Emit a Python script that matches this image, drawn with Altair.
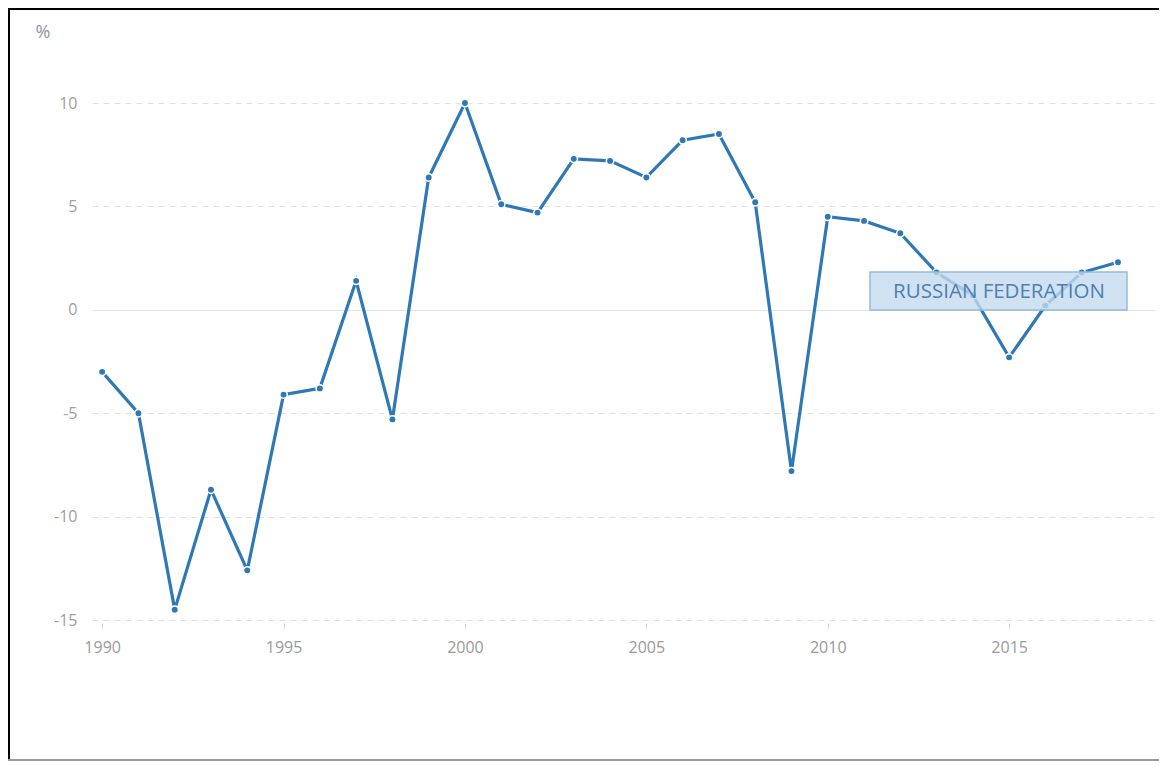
import altair as alt
import pandas as pd

years = list(range(1990, 2019))
growth = [-3.0, -5.0, -14.5, -8.7, -12.6, -4.1, -3.8, 1.4, -5.3, 6.4,
          10.0, 5.1, 4.7, 7.3, 7.2, 6.4, 8.2, 8.5, 5.2, -7.8,
          4.5, 4.3, 3.7, 1.8, 0.7, -2.3, 0.2, 1.8, 2.3]
x_ticks = [1990, 1995, 2000, 2005, 2010, 2015]
y_ticks = [-15, -10, -5, 0, 5, 10]
series_label = "RUSSIAN FEDERATION"

df = pd.DataFrame({"year": years, "value": growth})
one = pd.DataFrame({"a": [0]})

LINE = "#2e78b5"
FONT = "Open Sans"

x_enc = alt.X("year:Q",
              scale=alt.Scale(domain=[1989.72, 2019.02], nice=False, zero=False),
              axis=alt.Axis(values=x_ticks, format="d", title=None, grid=False,
                            domain=False, ticks=True, tickSize=5, tickColor="#cccccc",
                            offset=3, labelPadding=11, labelFontSize=16,
                            labelColor="#9a9a9a", labelFont=FONT))
y_enc = alt.Y("value:Q",
              scale=alt.Scale(domain=[-15, 10], nice=False),
              axis=alt.Axis(values=y_ticks, title="%", titleAngle=0,
                            labelExpr="'' + datum.value",
                            titleX=-57, titleY=-71, titleAlign="left",
                            titleBaseline="middle",
                            titleFontSize=18, titleFontWeight="normal",
                            titleColor="#8a94a6", titleFont=FONT,
                            domain=False, ticks=False, labelPadding=15,
                            labelFontSize=16, labelColor="#a0a0a0", labelFont=FONT,
                            grid=True,
                            gridColor={"condition": {"test": "datum.value === 0", "value": "#e2e6ea"}, "value": "#e0e0e0"},
                            gridDash={"condition": {"test": "datum.value === 0", "value": []}, "value": [6, 5]},
                            gridWidth=1))

base = alt.Chart(df)
line = base.mark_line(color=LINE, strokeWidth=3.2).encode(x=x_enc, y=y_enc)
points = base.mark_point(filled=True, color=LINE, size=55, stroke="white",
                         strokeWidth=1.5, opacity=1).encode(x="year:Q", y="value:Q")

box = alt.Chart(one).mark_rect(fill="#c4dbee", fillOpacity=0.8, stroke="#93bcdc",
                               strokeWidth=1.5).encode(
    x=alt.value(778), x2=alt.value(1035), y=alt.value(169), y2=alt.value(207))
label = alt.Chart(one).mark_text(text=series_label, font=FONT, fontSize=20.5,
                                 color="#4a80b4", align="center", baseline="middle").encode(
    x=alt.value(907), y=alt.value(189))

frame_left = alt.Chart(one).mark_rule(color="black", strokeWidth=4).encode(
    x=alt.value(-84), y=alt.value(-100), y2=alt.value(660))
frame_top = alt.Chart(one).mark_rule(color="black", strokeWidth=4).encode(
    y=alt.value(-95), x=alt.value(-90), x2=alt.value(1080))
frame_bottom = alt.Chart(one).mark_rule(color="#9a9a9a", strokeWidth=2).encode(
    y=alt.value(657), x=alt.value(-84), x2=alt.value(1080))

chart = alt.layer(line, points, box, label, frame_left, frame_top, frame_bottom).properties(
    width=1063, height=517,
    autosize=alt.AutoSizeParams(type="none"),
    padding={"left": 84, "top": 95, "right": 4, "bottom": 141},
    background="white",
).configure_view(stroke=None)

chart.save("out.html", embed_options={"renderer": "svg", "actions": False})
